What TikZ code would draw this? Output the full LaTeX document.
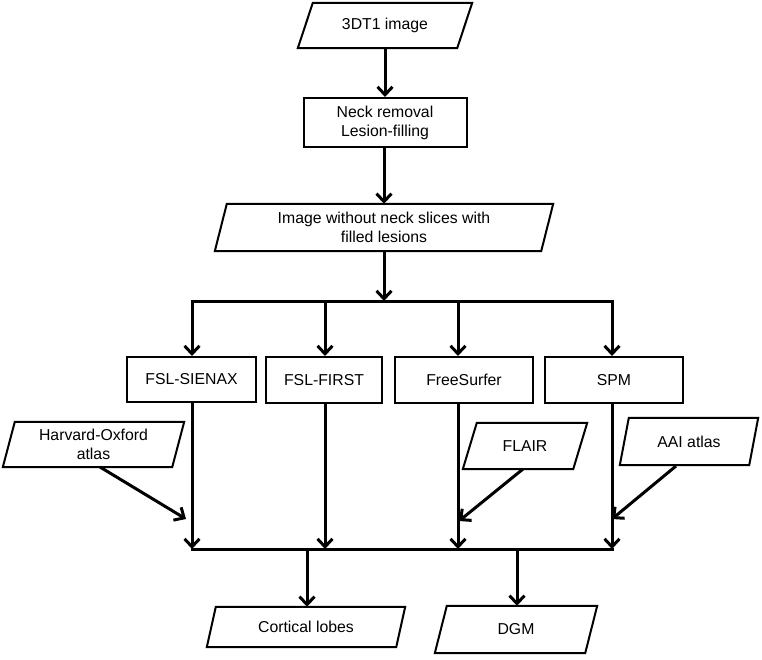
\documentclass[tikz,border=0pt]{standalone}
\usepackage{fontspec}
\setmainfont{Liberation Sans}
\usetikzlibrary{arrows.meta}
\begin{document}
\begin{tikzpicture}[x=1pt,y=-1pt,
  lbl/.style={inner sep=0pt, align=center, font=\fontsize{15.8}{19}\selectfont},
  boxed/.style={lbl, draw, line width=2pt},
  frame/.style={line width=2pt, line join=miter},
  wire/.style={line width=3pt},
  arr/.style={line width=3pt, -{Straight Barb[length=8pt,width=15pt]}}]
\useasboundingbox (0,0) rectangle (762,659);
% nodes
\node[lbl, minimum width=174pt, minimum height=45pt] (t1) at (385,25.5) {3DT1 image};
\node[boxed, minimum width=163pt, minimum height=49pt] (neck) at (385,122.5) {Neck removal\\Lesion-filling};
\node[lbl, minimum width=338pt, minimum height=47pt] (img) at (384,227.5) {Image without neck slices with\\filled lesions};
\node[boxed, minimum width=129pt, minimum height=45pt] (sienax) at (191.5,379.5) {FSL-SIENAX};
\node[boxed, minimum width=116pt, minimum height=46pt] (first) at (324,380) {FSL-FIRST};
\node[boxed, minimum width=138pt, minimum height=46pt] (fs) at (464,380) {FreeSurfer};
\node[boxed, minimum width=138pt, minimum height=46pt] (spm) at (614,380) {SPM};
\node[lbl, minimum width=181pt, minimum height=45pt] (harv) at (93.5,444.5) {Harvard-Oxford\\atlas};
\node[lbl, minimum width=124pt, minimum height=46pt] (flair) at (525,446) {FLAIR};
\node[lbl, minimum width=138pt, minimum height=47pt] (aai) at (689,441.5) {AAI atlas};
\node[lbl, minimum width=198pt, minimum height=40pt] (cort) at (306,627) {Cortical lobes};
\node[lbl, minimum width=162pt, minimum height=47pt] (dgm) at (516,629.5) {DGM};
% parallelogram outlines
\foreach \n/\s in {t1/15, img/12, harv/12, flair/14, aai/9, cort/9, dgm/12}{
  \draw[frame] ([xshift=\s pt]\n.north west) -- (\n.north east) -- ([xshift=-\s pt]\n.south east) -- (\n.south west) -- cycle;
}
% bus coordinates
\coordinate (tb1) at (192,301);
\coordinate (tb2) at (325,301);
\coordinate (tb3) at (458,301);
\coordinate (tb4) at (612,301);
\coordinate (tbc) at (384,301);
\coordinate (lb1) at (192,549);
\coordinate (lb2) at (325,549);
\coordinate (lb3) at (458,549);
\coordinate (lb4) at (612,549);
\coordinate (lo1) at (307,549);
\coordinate (lo2) at (517,549);
\coordinate (h1) at (186,519);
\coordinate (h3) at (459,521);
\coordinate (h4) at (612,519);
\coordinate (hs) at (100,467);
\coordinate (fs0) at (523,469);
\coordinate (as0) at (676,466);
% connectors
\draw[arr] (t1.south -| neck.north) -- (neck.north);
\draw[arr] (neck.south -| img.north) -- (img.north);
\draw[arr] (img.south) -- (tbc);
\draw[wire, line cap=rect] (tb1) -- (tb4);
\draw[arr] (tb1) -- (sienax.north -| tb1);
\draw[arr] (tb2) -- (first.north -| tb2);
\draw[arr] (tb3) -- (fs.north -| tb3);
\draw[arr] (tb4) -- (spm.north -| tb4);
\draw[arr] (sienax.south -| lb1) -- (lb1);
\draw[arr] (first.south -| lb2) -- (lb2);
\draw[arr] (fs.south -| lb3) -- (lb3);
\draw[arr] (spm.south -| lb4) -- (lb4);
\draw[wire, line cap=rect] (lb1) -- (lb4);
\draw[arr] (lo1) -- (cort.north -| lo1);
\draw[arr] (lo2) -- (dgm.north -| lo2);
\draw[arr] (hs) -- (h1);
\draw[arr] (fs0) -- (h3);
\draw[arr] (as0) -- (h4);
\end{tikzpicture}
\end{document}
